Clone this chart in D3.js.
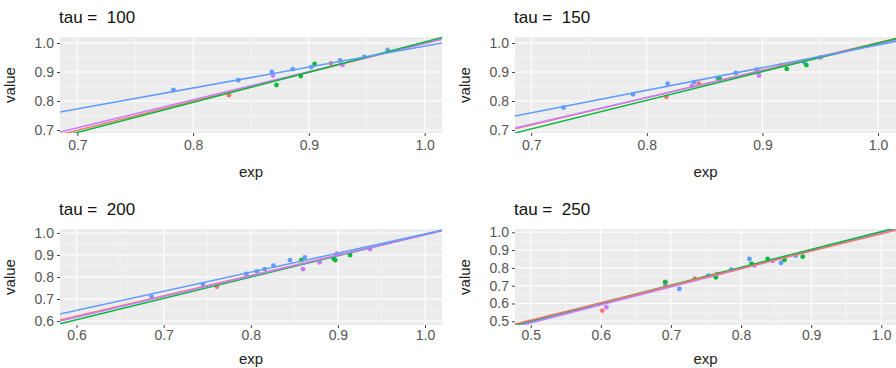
<!DOCTYPE html>
<html>
<head>
<meta charset="utf-8">
<script src="https://cdn.jsdelivr.net/npm/d3@7"></script>
<style>
  body { margin: 0; background: #fff; }
  svg { display: block; font-family: "Liberation Sans", Arial, sans-serif; }
  .tick-label { fill: #555; font-size: 14px; }
  .axis-title { fill: #222; font-size: 15px; }
  .panel-title { fill: #111; font-size: 17px; white-space: pre; }
</style>
</head>
<body>
<div id="chart"></div>
<script>
// groups and colours
var groups = ['a', 'b', 'c', 'd'];
var groupColors = ['#F8766D', '#00BA38', '#619CFF', '#C77CFF'];

var taus = [100, 150, 200, 250];

// axis domains and ticks for each panel
var xDomains = [[0.685, 1.015], [0.686, 1.0155], [0.581, 1.0195], [0.4776, 1.021]];
var yDomains = [[0.6897, 1.0207], [0.6897, 1.0207], [0.582, 1.018], [0.4792, 1.0185]];
var xTicks = [[0.7, 0.8, 0.9, 1.0], [0.7, 0.8, 0.9, 1.0], [0.6, 0.7, 0.8, 0.9, 1.0], [0.5, 0.6, 0.7, 0.8, 0.9, 1.0]];
var yTicks = [[0.7, 0.8, 0.9, 1.0], [0.7, 0.8, 0.9, 1.0], [0.6, 0.7, 0.8, 0.9, 1.0], [0.5, 0.6, 0.7, 0.8, 0.9, 1.0]];

// points: [group, exp, value]
var points100 = [
  ['c', 0.783, 0.838], ['c', 0.839, 0.872], ['c', 0.868, 0.900], ['c', 0.886, 0.910],
  ['c', 0.902, 0.917], ['c', 0.927, 0.940], ['c', 0.948, 0.952], ['c', 0.968, 0.976],
  ['b', 0.872, 0.855], ['b', 0.893, 0.886], ['b', 0.905, 0.928],
  ['a', 0.831, 0.820], ['a', 0.919, 0.930],
  ['d', 0.869, 0.888], ['d', 0.929, 0.924]
];
var points150 = [
  ['c', 0.728, 0.777], ['c', 0.788, 0.823], ['c', 0.818, 0.860], ['c', 0.841, 0.865],
  ['c', 0.861, 0.880], ['c', 0.877, 0.897], ['c', 0.895, 0.908], ['c', 0.936, 0.934],
  ['b', 0.863, 0.876], ['b', 0.938, 0.924], ['b', 0.921, 0.911],
  ['a', 0.817, 0.814], ['a', 0.845, 0.860], ['a', 0.916, 0.923],
  ['d', 0.897, 0.888], ['d', 0.950, 0.950], ['d', 0.839, 0.852]
];
var points200 = [
  ['c', 0.686, 0.711], ['c', 0.745, 0.768], ['c', 0.795, 0.814], ['c', 0.807, 0.826],
  ['c', 0.816, 0.836], ['c', 0.826, 0.852], ['c', 0.845, 0.877], ['c', 0.862, 0.889],
  ['c', 0.899, 0.905],
  ['b', 0.858, 0.877], ['b', 0.897, 0.877], ['b', 0.914, 0.900], ['b', 0.895, 0.884],
  ['a', 0.761, 0.756],
  ['d', 0.860, 0.836], ['d', 0.879, 0.867], ['d', 0.899, 0.905], ['d', 0.937, 0.927]
];
var points250 = [
  ['a', 0.602, 0.560], ['a', 0.734, 0.740], ['a', 0.766, 0.766], ['a', 0.692, 0.722],
  ['d', 0.608, 0.579], ['d', 0.692, 0.700], ['d', 0.819, 0.813], ['d', 0.845, 0.840],
  ['b', 0.692, 0.719], ['b', 0.764, 0.747], ['b', 0.815, 0.822], ['b', 0.838, 0.850],
  ['b', 0.862, 0.845], ['b', 0.888, 0.863],
  ['c', 0.712, 0.682], ['c', 0.812, 0.850], ['c', 0.857, 0.828], ['c', 0.878, 0.869],
  ['c', 0.786, 0.790], ['c', 0.753, 0.757]
];
var panelPoints = [points100, points150, points200, points250];

// fitted lines: [group, x0, y0, x1, y1]
var lines100 = [
  ['a', 0.685, 0.684, 1.015, 1.014],
  ['d', 0.685, 0.693, 1.015, 1.013],
  ['b', 0.685, 0.676, 1.015, 1.019],
  ['c', 0.685, 0.762, 1.015, 1.000]
];
var lines150 = [
  ['a', 0.686, 0.704, 1.0155, 1.016],
  ['d', 0.686, 0.707, 1.0155, 1.010],
  ['b', 0.686, 0.690, 1.0155, 1.015],
  ['c', 0.686, 0.748, 1.0155, 1.005]
];
var lines200 = [
  ['a', 0.581, 0.605, 1.0195, 1.010],
  ['b', 0.581, 0.588, 1.0195, 1.012],
  ['d', 0.581, 0.600, 1.0195, 1.010],
  ['c', 0.581, 0.632, 1.0195, 1.012]
];
var lines250 = [
  ['c', 0.4776, 0.475, 1.021, 1.020],
  ['d', 0.4776, 0.468, 1.021, 1.018],
  ['b', 0.4776, 0.480, 1.021, 1.025],
  ['a', 0.4776, 0.485, 1.021, 1.012]
];
var panelLines = [lines100, lines150, lines200, lines250];

var width = 896;
var height = 368;

// panel boxes in page pixels
var panels = [
  { left: 60, right: 442, top: 37, bottom: 133, expGap: 44, tickPad: 4 },
  { left: 515, right: 896, top: 37, bottom: 133, expGap: 44, tickPad: 4 },
  { left: 60, right: 442, top: 229, bottom: 325, expGap: 39, tickPad: 2 },
  { left: 515, right: 896, top: 229, bottom: 325, expGap: 39, tickPad: 2 }
];

var color = d3.scaleOrdinal().domain(groups).range(groupColors);
var fmt = d3.format('.1f');

var svg = d3.select('#chart')
  .append('svg')
  .attr('width', width)
  .attr('height', height);

panels.forEach(function (p, i) {
  var x = d3.scaleLinear().domain(xDomains[i]).range([p.left, p.right]);
  var y = d3.scaleLinear().domain(yDomains[i]).range([p.bottom, p.top]);
  var g = svg.append('g');

  // title
  g.append('text')
    .attr('class', 'panel-title')
    .attr('x', p.left - 1)
    .attr('y', p.top - 14)
    .text('tau =  ' + taus[i]);

  // background
  g.append('rect')
    .attr('x', p.left)
    .attr('y', p.top)
    .attr('width', p.right - p.left)
    .attr('height', p.bottom - p.top)
    .attr('fill', '#ECECEC');

  // minor grid
  var xt = xTicks[i], yt = yTicks[i];
  var xMinor = xt.slice(1).map((t, k) => (t + xt[k]) / 2);
  var yMinor = yt.slice(1).map((t, k) => (t + yt[k]) / 2);
  yMinor.push(yt[0] - 0.05);
  xMinor.push(xt[xt.length - 1] + 0.05);
  xMinor = xMinor.filter(v => v > xDomains[i][0] && v < xDomains[i][1]);
  yMinor = yMinor.filter(v => v > yDomains[i][0] && v < yDomains[i][1]);

  g.selectAll('.minor-x').data(xMinor).enter().append('line')
    .attr('x1', d => x(d)).attr('x2', d => x(d))
    .attr('y1', p.top).attr('y2', p.bottom)
    .attr('stroke', '#fff').attr('stroke-width', 0.5);
  g.selectAll('.minor-y').data(yMinor).enter().append('line')
    .attr('y1', d => y(d)).attr('y2', d => y(d))
    .attr('x1', p.left).attr('x2', p.right)
    .attr('stroke', '#fff').attr('stroke-width', 0.5);

  // major grid
  g.selectAll('.major-x').data(xt).enter().append('line')
    .attr('x1', d => x(d)).attr('x2', d => x(d))
    .attr('y1', p.top).attr('y2', p.bottom)
    .attr('stroke', '#fff').attr('stroke-width', 1.1);
  g.selectAll('.major-y').data(yt).enter().append('line')
    .attr('y1', d => y(d)).attr('y2', d => y(d))
    .attr('x1', p.left).attr('x2', p.right)
    .attr('stroke', '#fff').attr('stroke-width', 1.1);

  // clip
  var clipId = 'clip' + i;
  svg.append('clipPath').attr('id', clipId)
    .append('rect')
    .attr('x', p.left).attr('y', p.top)
    .attr('width', p.right - p.left).attr('height', p.bottom - p.top);

  var plot = g.append('g').attr('clip-path', 'url(#' + clipId + ')');

  plot.selectAll('circle')
    .data(panelPoints[i])
    .enter()
    .append('circle')
    .attr('cx', d => x(d[1]))
    .attr('cy', d => y(d[2]))
    .attr('r', 2.4)
    .attr('fill', d => color(d[0]));

  plot.selectAll('.fit')
    .data(panelLines[i])
    .enter()
    .append('line')
    .attr('class', 'fit')
    .attr('x1', d => x(d[1]))
    .attr('y1', d => y(d[2]))
    .attr('x2', d => x(d[3]))
    .attr('y2', d => y(d[4]))
    .attr('stroke', d => color(d[0]))
    .attr('stroke-width', 1.5);

  // x axis
  var xAxis = g.append('g')
    .attr('transform', `translate(0,${p.bottom})`)
    .call(d3.axisBottom(x).tickValues(xt).tickFormat(fmt).tickSize(3).tickPadding(p.tickPad));
  // y axis
  var yAxis = g.append('g')
    .attr('transform', `translate(${p.left},0)`)
    .call(d3.axisLeft(y).tickValues(yt).tickFormat(fmt).tickSize(3).tickPadding(3));

  [xAxis, yAxis].forEach(function (a) {
    a.select('.domain').remove();
    a.selectAll('.tick line').attr('stroke', '#444');
    a.selectAll('.tick text')
      .attr('class', 'tick-label')
      .attr('font-family', null)
      .attr('font-size', null)
      .attr('fill', null);
  });

  // axis titles
  g.append('text')
    .attr('class', 'axis-title')
    .attr('text-anchor', 'middle')
    .attr('x', (p.left + p.right) / 2)
    .attr('y', p.bottom + p.expGap)
    .text('exp');

  g.append('text')
    .attr('class', 'axis-title')
    .attr('text-anchor', 'middle')
    .attr('transform', `translate(${p.left - 45},${(p.top + p.bottom) / 2}) rotate(-90)`)
    .text('value');
});
</script>
</body>
</html>
